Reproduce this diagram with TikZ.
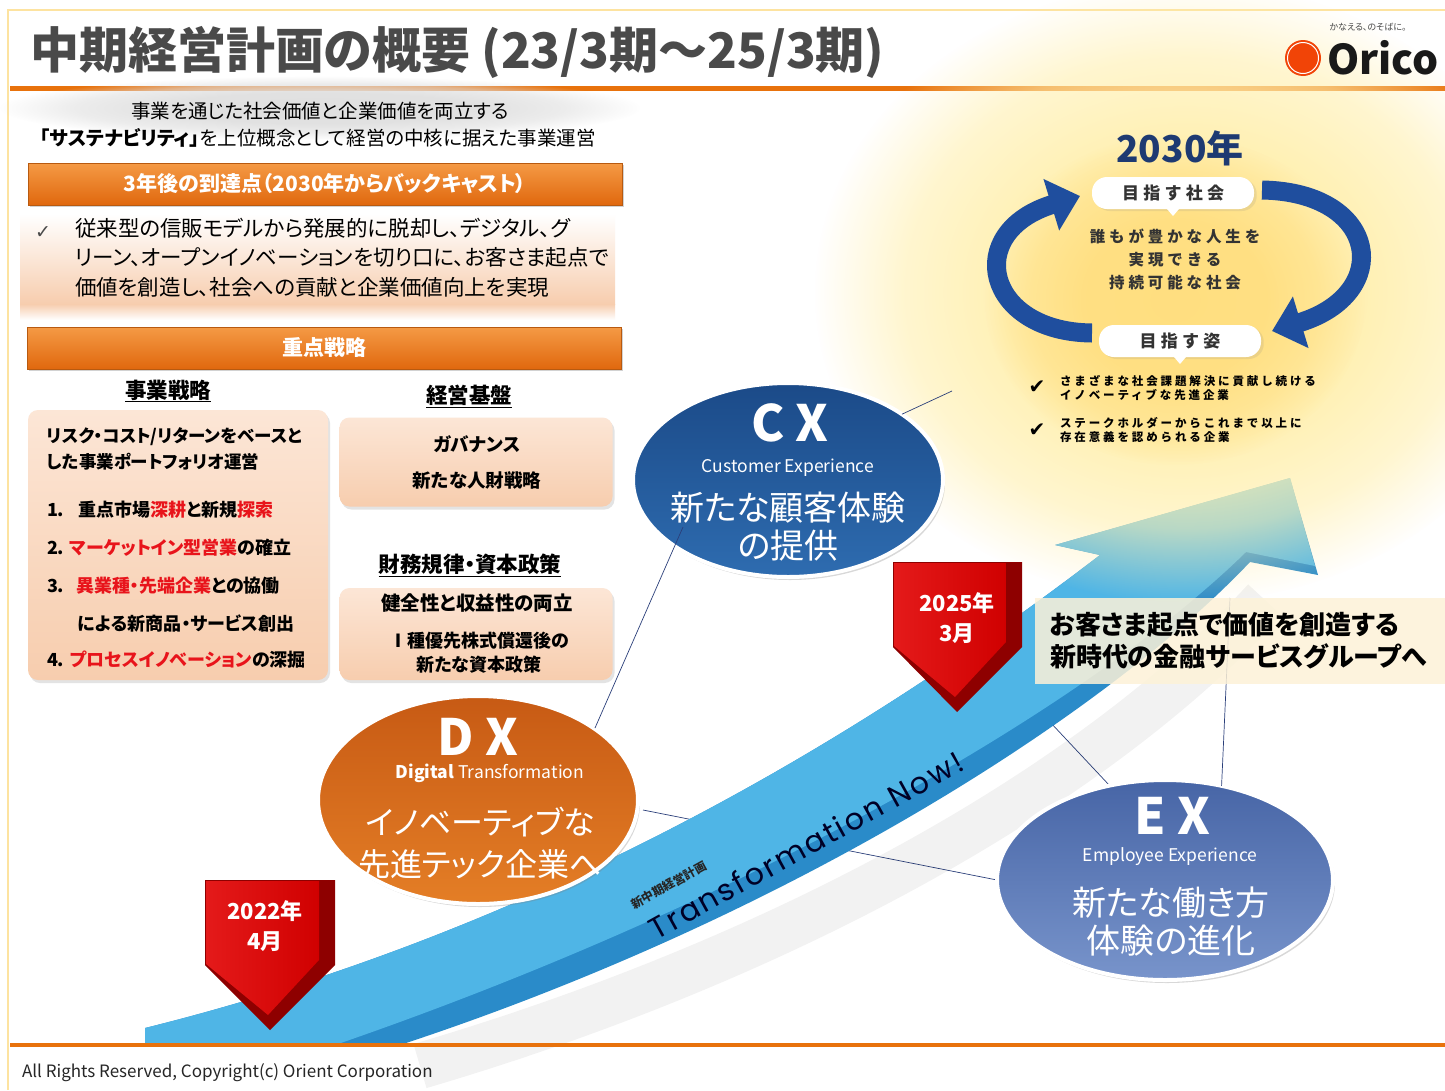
\documentclass[tikz,border=0pt]{standalone}
\usepackage{fontspec}
\setmainfont{Noto Sans CJK JP}[RawFeature=+palt]
\newfontfamily\spacedjp{Noto Sans CJK JP}[LetterSpace=25]
\newfontfamily\geofont{Poppins}[LetterSpace=8]
\newfontfamily\symfont{DejaVu Sans}
\usetikzlibrary{positioning,arrows.meta,shadows,fadings,shapes.geometric}

% palette
\definecolor{orgline}{HTML}{E8720C}
\definecolor{frameYellow}{HTML}{FDE3A0}
\definecolor{titleGray}{HTML}{4A4A4A}
\definecolor{barTop}{HTML}{F59A45}
\definecolor{barBot}{HTML}{E0680E}
\definecolor{barEdge}{HTML}{B85A10}
\definecolor{peachTop}{HTML}{FCE6D6}
\definecolor{peachBot}{HTML}{F7CDAE}
\definecolor{hlred}{HTML}{E8141B}
\definecolor{glowPale}{HTML}{FFF0B0}
\definecolor{glowCore}{HTML}{FFD970}
\definecolor{navy}{HTML}{1E3A72}
\definecolor{cycleBlue}{HTML}{1F4E9E}
\definecolor{pillText}{HTML}{333333}
\definecolor{lineNavy}{HTML}{2B3F7A}
\definecolor{bandTop}{HTML}{4FB5E6}
\definecolor{bandSide}{HTML}{2A8BC9}
\definecolor{cxTop}{HTML}{1B4A88}
\definecolor{cxBot}{HTML}{2E6CB0}
\definecolor{dxTop}{HTML}{C75A14}
\definecolor{dxBot}{HTML}{E47E26}
\definecolor{exTop}{HTML}{4765A6}
\definecolor{exBot}{HTML}{7894CB}
\definecolor{stampRed}{HTML}{D00000}
\definecolor{stampLight}{HTML}{E41A1A}
\definecolor{stampDark}{HTML}{8E0000}
\definecolor{cream}{HTML}{FDF2D8}

\newcommand{\fsz}[2]{\fontsize{#1}{#2}\selectfont}
\newcommand{\hl}[1]{\textcolor{hlred}{#1}}

% soft round fading for the glows (path box maps to 25bp)
\pgfdeclareradialshading{glowshade}{\pgfpointorigin}{%
  color(0bp)=(pgftransparent!0); color(12bp)=(pgftransparent!5);
  color(19bp)=(pgftransparent!40); color(25bp)=(pgftransparent!100);
  color(50bp)=(pgftransparent!100)}
\pgfdeclarefading{glowfade}{\pgfuseshading{glowshade}}

\begin{document}
\begin{tikzpicture}[x=1pt,y=-1pt,
  every node/.style={inner sep=0pt, outer sep=0pt},
  bar/.style={draw=barEdge, line width=0.8pt, top color=barTop, bottom color=barBot,
    minimum width=594pt, minimum height=42pt, text=white, font=\bfseries\fsz{21}{24},
    drop shadow={opacity=0.35, shadow xshift=2pt, shadow yshift=-2pt}},
  peachbox/.style={rounded corners=10pt, top color=peachTop, bottom color=peachBot,
    drop shadow={opacity=0.22, shadow xshift=2pt, shadow yshift=-3pt}},
  head/.style={font=\bfseries\fsz{21.5}{24}},
  item/.style={anchor=west, font=\bfseries\fsz{18}{22}},
  boxtext/.style={font=\bfseries\fsz{18.5}{22}},
  bubble/.style={ellipse, draw=white, line width=4pt,
    drop shadow={opacity=0.3, shadow xshift=2pt, shadow yshift=-3pt}},
  bigtag/.style={font=\bfseries\fsz{50}{54}, text=white},
  subtag/.style={font=\fsz{17.5}{20}, text=white},
  mission/.style={font=\fsz{34}{38}, text=white, align=center},
  pill/.style={rounded corners=15pt, fill=white, minimum width=162pt, minimum height=32pt,
    font=\spacedjp\bfseries\fsz{17}{20}, text=pillText,
    drop shadow={opacity=0.15, shadow yshift=-2pt}},
  smalljp/.style={font=\spacedjp\bfseries\fsz{11.5}{14.5}, anchor=west, align=left},
  connector/.style={draw=lineNavy, line width=0.7pt},
  cyclearrow/.style={draw=cycleBlue, line width=19pt, -{Triangle[length=30pt,width=52pt]}},
  stamp/.style={font=\bfseries\fsz{22}{30}, text=white, align=center}
]
\useasboundingbox (0,0) rectangle (1445,1090);
\fill[white] (0,0) rectangle (1445,1090);

% page frame
\draw[frameYellow, line width=2pt] (8,1090) -- (8,10) -- (1445,10);

% === Title ===
\node[anchor=west, font=\bfseries\fsz{49}{52}, text=titleGray] (title) at (30,52)
  {中期経営計画の概要 (23/3期～25/3期)};
\fill[orgline] (10,86) rectangle (1445,91);

% === Left column ===
\fill[black!12, path fading=glowfade] (320,108) ellipse [x radius=320, y radius=32];
\node[font=\fsz{19.5}{24}] (tag1) at (320,111) {事業を通じた社会価値と企業価値を両立する};
\node[font=\fsz{19.5}{24}] (tag2) at (318,138)
  {{\bfseries 「サステナビリティ」}を上位概念として経営の中核に据えた事業運営};

\node[bar] (goalbar) at (325,184) {3年後の到達点（2030年からバックキャスト）};

\shade[top color=white, bottom color=peachBot] (20,214) rectangle (615,304);
\shade[top color=peachBot, bottom color=white] (20,304) rectangle (615,320);
\node[font=\symfont\fsz{19}{22}, text=titleGray] (tick) at (43,233) {✓};
\node[anchor=north west, align=left, font=\fsz{21.5}{29.5}] (goaltext) at (75,218)
  {従来型の信販モデルから発展的に脱却し、デジタル、グ\\
   リーン、オープンイノベーションを切り口に、お客さま起点で\\
   価値を創造し、社会への貢献と企業価値向上を実現};

\node[bar] (focusbar) at (324,348) {重点戦略};

\node[head] (bizhead) at (168,391) {\underline{事業戦略}};
\node[head] (mgmthead) at (469,396) {\underline{経営基盤}};
\node[head] (finhead) at (470,565) {\underline{財務規律・資本政策}};

\node[peachbox, minimum width=300pt, minimum height=270pt] (bizbox) at (178,545) {};
\node[peachbox, minimum width=273pt, minimum height=89pt] (mgmtbox) at (476,462) {};
\node[peachbox, minimum width=273pt, minimum height=92pt] (finbox) at (476,634) {};

\node[item, font=\bfseries\fsz{17.5}{22}] (biz0) at (47,437) {リスク・コスト/リターンをベースと};
\node[item, font=\bfseries\fsz{17.5}{22}] (biz0b) at (47,462) {した事業ポートフォリオ運営};
\node[item] (biz1) at (47,510) {1.\hspace{14pt}重点市場\hl{深耕}と新規\hl{探索}};
\node[item] (biz2) at (47,548) {2. \hl{マーケットイン型営業}の確立};
\node[item] (biz3) at (47,586) {3.\hspace{12pt}\hl{異業種・先端企業}との協働};
\node[item] (biz3b) at (78,623) {による新商品・サービス創出};
\node[item] (biz4) at (47,660) {4. \hl{プロセスイノベーション}の深掘};

\node[boxtext] (gov) at (477,444) {ガバナンス};
\node[boxtext] (hr) at (477,480) {新たな人財戦略};
\node[boxtext, font=\bfseries\fsz{19.5}{22}] (fin1) at (477,603) {健全性と収益性の両立};
\node[boxtext, align=center, font=\bfseries\fsz{18}{24}] (fin2) at (479,653)
  {Ⅰ種優先株式償還後の\\新たな資本政策};

% === Rising arrow ===
\coordinate (dxrim) at (643,810);
\coordinate (bandfoot) at (1050,722);
\coordinate (headfoot) at (1230,598);

% lines running behind the arrow
\draw[connector] (dxrim) -- (997,880);
\draw[connector] (bandfoot) -- (1110,786);

% soft shadow under the arrow
\draw[black, opacity=0.05, line width=46pt] (420,1066) .. controls (780,960) and (1090,790) .. (1265,600);

\fill[bandSide] (145,1045) -- (145,1028)
  .. controls (500,940) and (820,770) .. (1100,555)
  -- (1055,545) -- (1290,478) -- (1318,575) -- (1250,562)
  .. controls (1100,720) and (780,920) .. (400,1045) -- cycle;
\fill[bandTop] (145,1045) -- (145,1028)
  .. controls (500,940) and (820,770) .. (1100,555)
  -- (1055,545) -- (1290,478) -- (1315,566) -- (1246,552)
  .. controls (1090,705) and (750,902) .. (335,1045) -- cycle;

\node[font=\bfseries\fsz{12}{14}, text=black!85, rotate=29] (bandsub) at (669,885) {新中期経営計画};
\node[font=\geofont\fsz{30}{34}, text=black!85!blue, rotate=29] (bandtext) at (806,845) {Transformation Now!};

% === 2030 glow ===
\fill[glowPale, path fading=glowfade] (1185,292) ellipse [x radius=370, y radius=310];
\fill[glowCore, opacity=0.75, path fading=glowfade] (1175,300) ellipse [x radius=190, y radius=165];

% === Logo ===
\node[font=\fsz{9}{10}, text=titleGray] (slogan) at (1368,27) {かなえる、のそばに。};
\fill[orgline!60!red] (1303,58) circle (18);
\draw[white, line width=1pt] (1303,58) circle (15.5);
\node[anchor=west, font=\bfseries\fsz{41}{44}, text=black!90] (logo) at (1327,58) {Orico};

\node[font=\bfseries\fsz{37}{40}, text=navy] (year2030) at (1180,148) {2030年};

\draw[cyclearrow] (1092,333) .. controls (985,332) and (962,232) .. (1080,196);
\draw[cyclearrow] (1262,190) .. controls (1380,192) and (1394,294) .. (1272,331);

\node[pill] (society) at (1173,193) {目指す社会};
\fill[white] ([xshift=-6pt]society.south) -- ([xshift=6pt]society.south) -- ([yshift=-7pt]society.south) -- cycle;
\node[font=\spacedjp\bfseries\fsz{15.5}{23}, align=center, text=pillText] (societytext) at (1175,259)
  {誰もが豊かな人生を\\実現できる\\持続可能な社会};

\node[pill] (ideal) at (1180,341) {目指す姿};
\fill[white] ([xshift=-6pt]ideal.south) -- ([xshift=6pt]ideal.south) -- ([yshift=-7pt]ideal.south) -- cycle;

\node[font=\symfont\fsz{20}{22}] (tick1) at (1037,387) {✔};
\node[font=\symfont\fsz{20}{22}] (tick2) at (1037,430) {✔};
\node[smalljp] (ideal1) at (1060,388) {さまざまな社会課題解決に貢献し続ける\\イノベーティブな先進企業};
\node[smalljp] (ideal2) at (1060,430) {ステークホルダーからこれまで以上に\\存在意義を認められる企業};
\coordinate (idealfoot) at (952,391);

% === Three bubbles ===
\node[bubble, top color=cxTop, bottom color=cxBot, minimum width=310pt, minimum height=194pt] (cx) at (788,480) {};
\node[bubble, top color=dxTop, bottom color=dxBot, minimum width=320pt, minimum height=208pt] (dx) at (478,800) {};
\node[bubble, top color=exTop, bottom color=exBot, minimum width=336pt, minimum height=200pt] (ex) at (1165,880) {};

\coordinate (cxfoot) at (683,527);
\coordinate (dxtop) at (595,728);
\draw[connector] (cxfoot) -- (dxtop);
\draw[connector] (cx.30) -- (idealfoot);

\node[bigtag] (cxtag) at (790,423) {C X};
\node[subtag] (cxsub) at (788,468) {Customer Experience};
\node[mission] (cxtext) at (788,527) {新たな顧客体験\\の提供};

\node[bigtag] (dxtag) at (478,737) {D X};
\node[subtag] (dxsub) at (490,773) {{\bfseries Digital} Transformation};
\node[mission, font=\fsz{32}{42}] (dxtext) at (480,843) {イノベーティブな\\先進テック企業へ};

\node[bigtag] (extag) at (1172,816) {E X};
\node[subtag] (exsub) at (1170,857) {Employee Experience};
\node[mission] (extext) at (1171,922) {新たな働き方\\体験の進化};

% === Date stamps ===
\begin{scope}[shift={(205,880)}]
  \fill[stampDark] (0,0) -- (130,0) -- (130,85) -- (65,150) -- (0,85) -- cycle;
  \shade[left color=stampLight, right color=stampRed] (1,1) -- (114,1) -- (114,80) -- (63,135) -- (1,84) -- cycle;
\end{scope}
\node[stamp] (start) at (265,926) {2022年\\4月};

\begin{scope}[shift={(893,562)}]
  \fill[stampDark] (0,0) -- (129,0) -- (129,85) -- (64,150) -- (0,85) -- cycle;
  \shade[left color=stampLight, right color=stampRed] (1,1) -- (113,1) -- (113,80) -- (62,135) -- (1,84) -- cycle;
\end{scope}
\node[stamp] (goal) at (957,618) {2025年\\3月};

% === Message on the right ===
\draw[connector] (ex.59) -- (headfoot);
\node[anchor=west, fill=cream, fill opacity=0.85, text opacity=1, text width=395pt, align=left,
  inner xsep=15pt, minimum height=86pt, font=\bfseries\fsz{26}{32}] (promise) at (1035,641)
  {お客さま起点で価値を創造する\\新時代の金融サービスグループへ};

% === Footer ===
\fill[orgline] (10,1043) rectangle (1445,1047);
\node[anchor=west, font=\fsz{17}{18}, text=black!85] (footer) at (22,1073)
  {All Rights Reserved, Copyright(c) Orient Corporation};
\end{tikzpicture}
\end{document}
